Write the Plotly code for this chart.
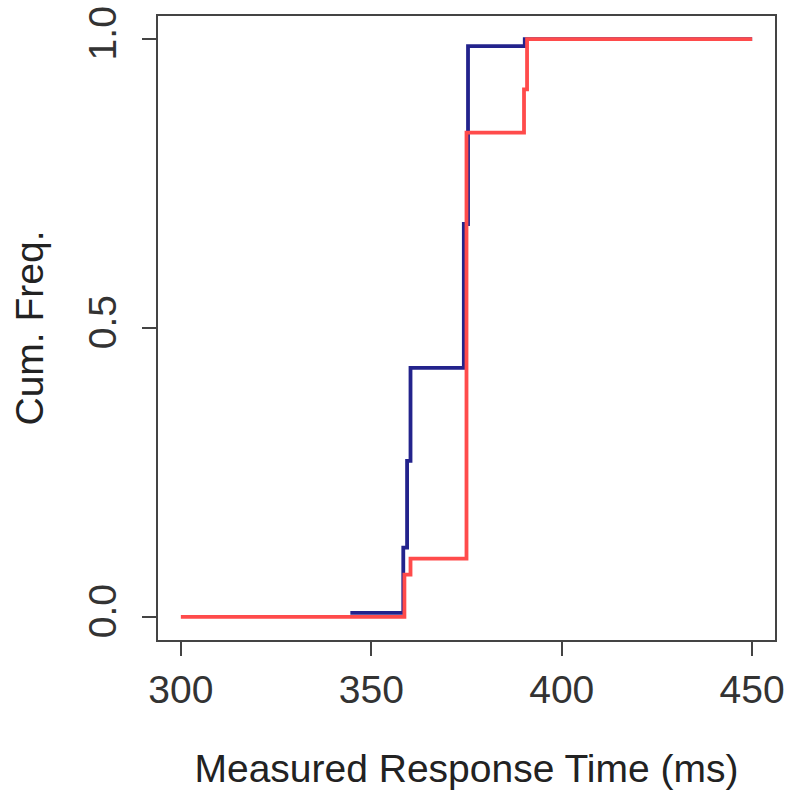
import plotly.graph_objects as go

# Data
blue_x = [344.5, 358.4, 359.4, 360.3, 374.3, 375.4, 390.3, 450]
blue_y = [0.007, 0.12, 0.27, 0.431, 0.68, 0.988, 1.0, 1.0]

red_x = [300, 358.7, 360.3, 375.0, 390.1, 390.9, 450]
red_y = [0.0, 0.073, 0.101, 0.838, 0.913, 1.0, 1.0]

x_ticks = [300, 350, 400, 450]
y_ticks = [0.0, 0.5, 1.0]
y_tick_text = ["0.0", "0.5", "1.0"]

x_title = "Measured Response Time (ms)"
y_title = "Cum. Freq."

fig = go.Figure()
fig.add_trace(go.Scatter(x=blue_x, y=blue_y, mode="lines", line_shape="hv",
                         line=dict(color="#23238C", width=3.8), showlegend=False))
fig.add_trace(go.Scatter(x=red_x, y=red_y, mode="lines", line_shape="hv",
                         line=dict(color="#FF4B4B", width=3.8), showlegend=False))

axis_common = dict(showline=True, mirror=True, linecolor="#444444", linewidth=2,
                   ticks="outside", ticklen=14, tickwidth=2, tickcolor="#444444",
                   showgrid=False, zeroline=False, automargin=False,
                   ticklabeloverflow="allow",
                   tickfont=dict(family="Liberation Sans, Arial, sans-serif", size=39, color="#333333"),
                   title_font=dict(family="Liberation Sans, Arial, sans-serif", size=39, color="#222222"))

fig.update_xaxes(range=[294, 456], tickvals=x_ticks, ticktext=[str(v) for v in x_ticks],
                 ticklabelstandoff=0,
                 title_text=x_title, title_standoff=45, **axis_common)
fig.update_yaxes(range=[-0.04, 1.04], tickvals=y_ticks, ticktext=y_tick_text,
                 tickangle=-90, ticklabelstandoff=10,
                 title_text=y_title, title_standoff=26, **axis_common)

fig.update_layout(width=789, height=791, plot_bgcolor="white", paper_bgcolor="white",
                  margin=dict(l=158, r=14, t=16, b=151), showlegend=False)

fig.write_html("out.html", config={"displayModeBar": False},
               post_script="document.body.style.margin='0';document.body.style.overflow='hidden';")
